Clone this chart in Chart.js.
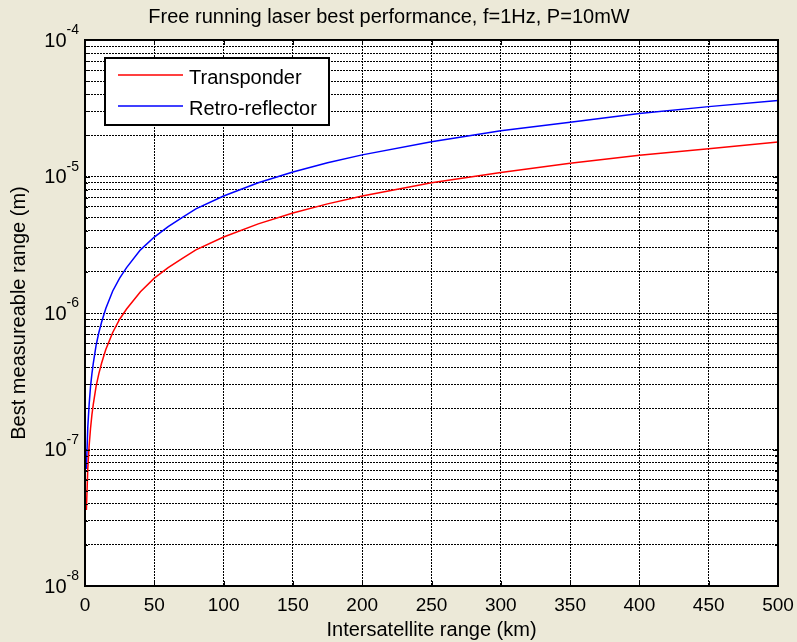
<!DOCTYPE html>
<html>
<head>
<meta charset="utf-8">
<title>Free running laser best performance</title>
<script src="https://cdn.jsdelivr.net/npm/chart.js@4.4.1/dist/chart.umd.min.js"></script>
<style>
  html, body { margin: 0; padding: 0; background: #ece9d8; }
  #wrap { width: 797px; height: 642px; }
</style>
</head>
<body>
<div id="wrap"><canvas id="laserChart" width="797" height="642"></canvas></div>
<script>
// Intersatellite range samples (km)
const rangeKm = [1, 2, 3, 4, 5, 6, 8, 10, 12, 15, 20, 25, 30, 40, 50, 60, 70, 80, 100,
    125, 150, 175, 200, 250, 300, 350, 400, 450, 500];

// Best measurable range (m)
const transponder = [3.6e-8, 7.2e-8, 1.07e-7, 1.43e-7, 1.8e-7, 2.15e-7, 2.9e-7, 3.6e-7, 4.3e-7,
    5.4e-7, 7.2e-7, 9.0e-7, 1.07e-6, 1.43e-6, 1.8e-6, 2.15e-6, 2.5e-6, 2.9e-6, 3.6e-6,
    4.5e-6, 5.4e-6, 6.3e-6, 7.2e-6, 9.0e-6, 1.07e-5, 1.25e-5, 1.43e-5, 1.6e-5, 1.79e-5];
const retroReflector = [7.2e-8, 1.45e-7, 2.15e-7, 2.9e-7, 3.6e-7, 4.3e-7, 5.8e-7, 7.2e-7, 8.6e-7,
    1.08e-6, 1.45e-6, 1.8e-6, 2.15e-6, 2.9e-6, 3.6e-6, 4.3e-6, 5.0e-6, 5.8e-6, 7.2e-6,
    9.0e-6, 1.08e-5, 1.26e-5, 1.44e-5, 1.8e-5, 2.16e-5, 2.5e-5, 2.9e-5, 3.25e-5, 3.6e-5];

// Axis ticks
const xTicks = [0, 50, 100, 150, 200, 250, 300, 350, 400, 450, 500];
const yDecades = [1e-8, 1e-7, 1e-6, 1e-5, 1e-4];
const yDecadeExponents = ['-8', '-7', '-6', '-5', '-4'];
const yMinorSteps = [2, 3, 4, 5, 6, 7, 8, 9];

const FONT = '"Liberation Sans", Arial, Helvetica, sans-serif';
const BG = '#ece9d8';

// all log grid lines: each decade plus 2..9 inside it
const yGridValues = [];
yDecades.forEach((d, i) => {
    yGridValues.push(d);
    if (i < yDecades.length - 1) {
        yMinorSteps.forEach(m => yGridValues.push(d * m));
    }
});

Chart.defaults.color = '#000';
Chart.defaults.font.family = FONT;

const matlabLook = {
    id: 'matlabLook',
    beforeDraw(chart) {
        const { ctx, chartArea: a } = chart;
        ctx.save();
        ctx.fillStyle = BG;
        ctx.fillRect(0, 0, chart.width, chart.height);
        ctx.fillStyle = '#fff';
        ctx.fillRect(a.left, a.top, a.right - a.left, a.bottom - a.top);
        ctx.restore();
    },
    afterDraw(chart) {
        const { ctx, chartArea: a } = chart;
        const xs = chart.scales.x;
        const ys = chart.scales.y;
        ctx.save();

        // inner tick marks
        ctx.strokeStyle = '#000';
        ctx.lineWidth = 1;
        ctx.beginPath();
        xTicks.forEach(v => {
            const px = Math.round(xs.getPixelForValue(v)) + 0.5;
            ctx.moveTo(px, a.bottom); ctx.lineTo(px, a.bottom - 5);
            ctx.moveTo(px, a.top); ctx.lineTo(px, a.top + 5);
        });
        yGridValues.forEach(v => {
            const py = Math.round(ys.getPixelForValue(v)) + 0.5;
            const len = yDecades.includes(v) ? 5 : 3;
            ctx.moveTo(a.left, py); ctx.lineTo(a.left + len, py);
            ctx.moveTo(a.right, py); ctx.lineTo(a.right - len, py);
        });
        ctx.stroke();

        // axes box
        ctx.lineWidth = 2;
        ctx.strokeRect(a.left, a.top, a.right - a.left, a.bottom - a.top);

        // y tick labels as 10 with superscript exponent
        ctx.fillStyle = '#000';
        ctx.textAlign = 'right';
        ctx.textBaseline = 'middle';
        const labelRight = ys.right - 6;
        yDecades.forEach((v, i) => {
            const py = ys.getPixelForValue(v);
            ctx.font = '14px ' + FONT;
            const sup = yDecadeExponents[i];
            const w = ctx.measureText(sup).width;
            ctx.fillText(sup, labelRight, py - 9.5);
            ctx.font = '20px ' + FONT;
            ctx.fillText('10', labelRight - w, py + 1);
        });

        // legend box in the upper left corner
        const lx = a.left + 20, ly = a.top + 18, lw = 224, lh = 67;
        ctx.fillStyle = '#fff';
        ctx.fillRect(lx, ly, lw, lh);
        ctx.lineWidth = 2;
        ctx.strokeRect(lx, ly, lw, lh);
        ctx.font = '20px ' + FONT;
        ctx.textAlign = 'left';
        ctx.textBaseline = 'alphabetic';
        chart.data.datasets.forEach((ds, i) => {
            const y = ly + 17 + i * 31;
            ctx.strokeStyle = ds.borderColor;
            ctx.lineWidth = 1.5;
            ctx.beginPath();
            ctx.moveTo(lx + 13, y);
            ctx.lineTo(lx + 78, y);
            ctx.stroke();
            ctx.fillStyle = '#000';
            ctx.fillText(ds.label, lx + 84, y + 9);
        });
        ctx.restore();
    }
};

const ctx = document.getElementById('laserChart');
new Chart(ctx, {
    type: 'line',
    data: {
        datasets: [{
            label: 'Transponder',
            data: rangeKm.map((x, i) => ({ x: x, y: transponder[i] })),
            borderColor: '#ff0000',
            borderWidth: 1.5,
            pointRadius: 0,
            fill: false,
            tension: 0
        }, {
            label: 'Retro-reflector',
            data: rangeKm.map((x, i) => ({ x: x, y: retroReflector[i] })),
            borderColor: '#0000ff',
            borderWidth: 1.5,
            pointRadius: 0,
            fill: false,
            tension: 0
        }]
    },
    options: {
        responsive: false,
        animation: false,
        layout: { padding: { left: 0, right: 19, top: 0, bottom: 0 } },
        plugins: {
            legend: { display: false },
            tooltip: { enabled: false },
            title: {
                display: true,
                text: 'Free running laser best performance, f=1Hz, P=10mW',
                font: { size: 20, weight: 'normal' },
                color: '#000',
                padding: { top: 5, bottom: 11 }
            }
        },
        scales: {
            x: {
                type: 'linear',
                min: 0,
                max: 500,
                afterBuildTicks: scale => { scale.ticks = xTicks.map(v => ({ value: v })); },
                afterFit: scale => {
                    scale.height = 56;
                    scale.paddingLeft = 0;
                    scale.paddingRight = 0;
                },
                ticks: { font: { size: 19 }, padding: 8, maxRotation: 0, color: '#000' },
                grid: { color: '#000', lineWidth: 1, drawTicks: false },
                border: { display: false, dash: [2, 1] },
                title: {
                    display: true,
                    text: 'Intersatellite range (km)',
                    font: { size: 20 },
                    color: '#000',
                    padding: { top: 0, bottom: 0 }
                }
            },
            y: {
                type: 'logarithmic',
                min: 1e-8,
                max: 1e-4,
                afterBuildTicks: scale => { scale.ticks = yGridValues.map(v => ({ value: v })); },
                afterFit: scale => { scale.width = 85; },
                ticks: { display: false, autoSkip: false },
                grid: { color: '#000', lineWidth: 1, drawTicks: false },
                border: { display: false, dash: [2, 1] },
                title: {
                    display: true,
                    text: 'Best measureable range (m)',
                    font: { size: 20 },
                    color: '#000',
                    padding: { top: 7, bottom: 0 }
                }
            }
        }
    },
    plugins: [matlabLook]
});
</script>
</body>
</html>
